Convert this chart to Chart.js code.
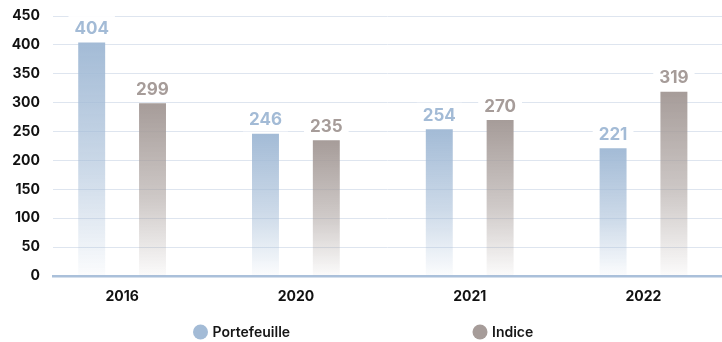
<!DOCTYPE html>
<html>
<head>
<meta charset="utf-8">
<script src="https://cdn.jsdelivr.net/npm/chart.js@4/dist/chart.umd.min.js"></script>
<style>
  html, body { margin: 0; padding: 0; background: #ffffff; overflow: hidden; }
  #wrap { width: 722px; height: 342px; position: relative; }
</style>
</head>
<body>
<div id="wrap"><canvas id="c" width="722" height="342"></canvas></div>
<script>
// Years on the x axis and the two series compared each year
const categories = ['2016', '2020', '2021', '2022'];
const portefeuille = [404, 246, 254, 221];
const indice = [299, 235, 270, 319];
const yTicks = [0, 50, 100, 150, 200, 250, 300, 350, 400, 450];

const BLUE = [163, 187, 214];
const TAUPE = [166, 156, 153];
const rgba = (c, a) => `rgba(${c[0]},${c[1]},${c[2]},${a})`;

// Vertical fade for each bar: solid at its top, almost white at the baseline
function fade(rgb) {
  return (ctx) => {
    const chart = ctx.chart;
    if (!chart.chartArea || !ctx.raw) return rgba(rgb, 1);
    const ys = chart.scales.y;
    const top = ys.getPixelForValue(ctx.raw.y);
    const base = ys.getPixelForValue(0);
    const g = chart.ctx.createLinearGradient(0, top, 0, base);
    g.addColorStop(0, rgba(rgb, 1));
    g.addColorStop(0.55, rgba(rgb, 0.55));
    g.addColorStop(1, rgba(rgb, 0.04));
    return g;
  };
}

// Value above each bar, on a white tag that hides the grid behind it
const valueTags = {
  id: 'valueTags',
  afterDatasetsDraw(chart) {
    const c = chart.ctx;
    c.save();
    c.font = '700 17px Inter';
    c.textAlign = 'center';
    c.textBaseline = 'middle';
    chart.data.datasets.forEach((ds, di) => {
      const meta = chart.getDatasetMeta(di);
      meta.data.forEach((bar, i) => {
        const txt = String(ds.data[i].y);
        const w = c.measureText(txt).width + 12;
        const cy = bar.y - 14.5;
        c.fillStyle = '#ffffff';
        c.fillRect(bar.x - w / 2, cy - 12, w, 24);
        c.fillStyle = ds.tagColor;
        c.fillText(txt, bar.x, cy + 1);
      });
    });
    c.restore();
  }
};

// Legend row under the axis: round swatch followed by the series name
const dotLegend = {
  id: 'dotLegend',
  afterDraw(chart, args, opts) {
    const c = chart.ctx;
    c.save();
    c.font = '600 14px Inter';
    c.textBaseline = 'middle';
    c.textAlign = 'left';
    chart.data.datasets.forEach((ds, di) => {
      const x = opts.xs[di];
      c.fillStyle = ds.tagColor;
      c.beginPath();
      c.arc(x, opts.y, 7.5, 0, Math.PI * 2);
      c.fill();
      c.fillStyle = '#161616';
      c.fillText(ds.label, x + 12, opts.y + 1);
    });
    c.restore();
  }
};

new Chart(document.getElementById('c'), {
  type: 'bar',
  data: {
    datasets: [
      {
        label: 'Portefeuille',
        data: portefeuille.map((v, i) => ({ x: i, y: v })),
        backgroundColor: fade(BLUE),
        tagColor: rgba(BLUE, 1)
      },
      {
        label: 'Indice',
        data: indice.map((v, i) => ({ x: i, y: v })),
        backgroundColor: fade(TAUPE),
        tagColor: rgba(TAUPE, 1)
      }
    ]
  },
  options: {
    responsive: false,
    animation: false,
    events: [],
    categoryPercentage: 0.70,
    barPercentage: 0.443,
    layout: { padding: { top: 16, right: 0, bottom: 0, left: 0 } },
    scales: {
      x: {
        type: 'linear',
        offset: false,
        min: -0.3976,
        max: 3.4517,
        afterBuildTicks: (s) => { s.ticks = categories.map((_, i) => ({ value: i })); },
        afterFit: (s) => { s.height = 66; },
        grid: { display: false, drawTicks: false, offset: false },
        border: { display: true, color: 'rgb(170,192,218)', width: 2.5 },
        ticks: {
          padding: 12,
          color: '#111111',
          font: { family: 'Inter', weight: '700', size: 14 },
          callback: (v) => categories[v] ?? ''
        }
      },
      y: {
        min: 0,
        max: 450,
        afterBuildTicks: (s) => { s.ticks = yTicks.map((v) => ({ value: v })); },
        afterFit: (s) => { s.width = 53; },
        grid: {
          color: 'rgb(222,229,239)',
          lineWidth: 1,
          drawTicks: true,
          tickLength: 13,
          tickColor: 'rgba(0,0,0,0)'
        },
        border: { display: false },
        ticks: {
          padding: 0,
          color: '#111111',
          font: { family: 'Inter', weight: '700', size: 14 }
        }
      }
    },
    plugins: {
      legend: { display: false },
      tooltip: { enabled: false },
      dotLegend: { xs: [200.5, 480], y: 332 }
    }
  },
  plugins: [valueTags, dotLegend]
});
</script>
</body>
</html>
